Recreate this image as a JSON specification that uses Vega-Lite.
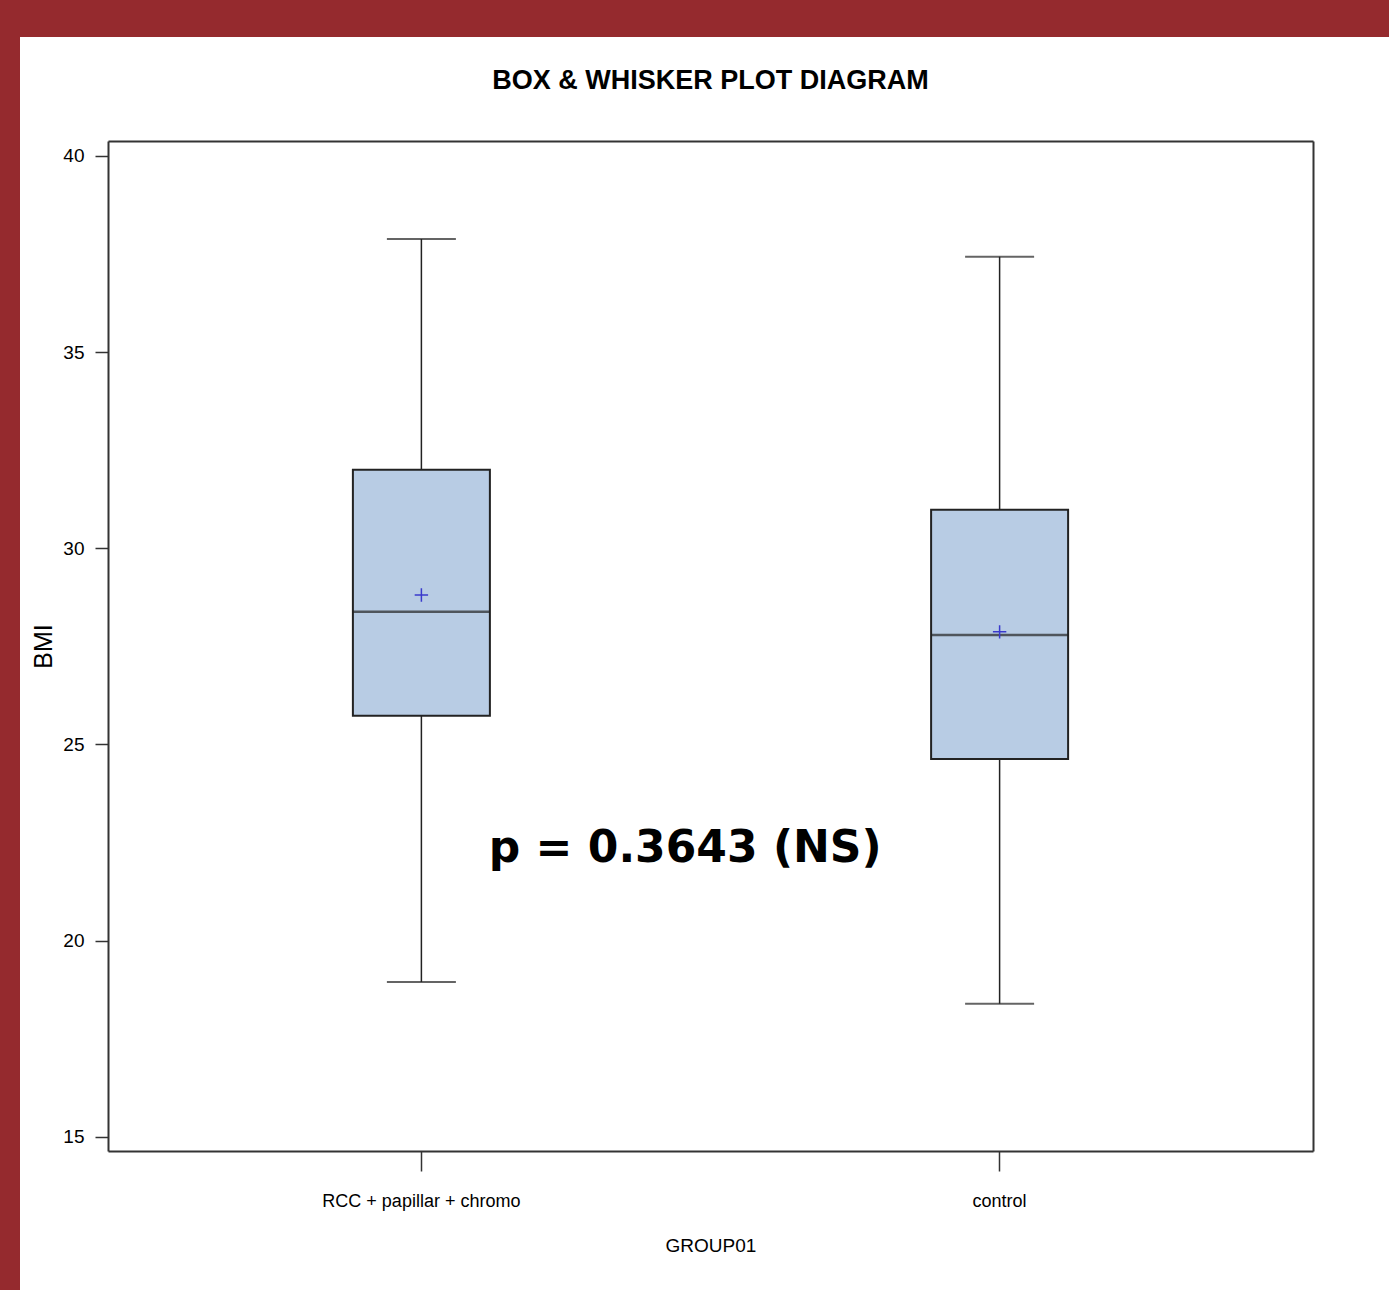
{
  "$schema": "https://vega.github.io/schema/vega-lite/v6.json",
  "width": 1369,
  "height": 1253,
  "autosize": {"type": "none"},
  "padding": {"left": 20, "top": 37, "right": 0, "bottom": 0},
  "background": "#952a2e",
  "config": {
    "view": {"fill": "white", "stroke": null},
    "axis": {
      "grid": false,
      "domainColor": "#333333",
      "domainWidth": 2,
      "tickColor": "#333333",
      "tickWidth": 1.5,
      "labelColor": "black",
      "titleColor": "black",
      "titleFontWeight": "normal",
      "labelLimit": 0
    }
  },
  "title": {
    "text": "BOX & WHISKER PLOT DIAGRAM",
    "font": "Liberation Sans",
    "fontSize": 27,
    "fontWeight": "bold",
    "color": "black",
    "anchor": "middle",
    "frame": "group",
    "offset": -58,
    "dx": 6
  },
  "layer": [
    {
      "data": {
        "values": [
          {"group": "RCC + papillar + chromo", "min": 18.95, "q1": 25.73, "median": 28.38, "q3": 32.0, "max": 37.88, "mean": 28.81},
          {"group": "control", "min": 18.39, "q1": 24.63, "median": 27.79, "q3": 30.98, "max": 37.43, "mean": 27.87}
        ]
      },
      "encoding": {
        "x": {
          "field": "group",
          "type": "nominal",
          "sort": null,
          "scale": {"type": "band", "range": [88, 1293], "paddingInner": 0, "paddingOuter": 0.042},
          "axis": {
            "orient": "bottom",
            "offset": -139,
            "title": "GROUP01",
            "labelAngle": 0,
            "tickSize": 20,
            "labelPadding": 21,
            "labelFont": "Liberation Sans",
            "labelFontSize": 18,
            "titleFont": "Liberation Sans",
            "titleFontSize": 19,
            "titlePadding": 26
          }
        }
      },
      "layer": [
        {
          "mark": {"type": "rule", "color": "#222222", "strokeWidth": 1.5},
          "encoding": {
            "y": {
              "field": "min",
              "type": "quantitative",
              "scale": {"domain": [14.64, 40.38], "range": [1114, 104], "nice": false, "zero": false},
              "axis": {
                "orient": "left",
                "offset": -88,
                "title": "BMI",
                "values": [15, 20, 25, 30, 35, 40],
                "tickSize": 13,
                "labelPadding": 11,
                "labelFont": "Liberation Sans",
                "labelFontSize": 19,
                "titleFont": "Liberation Sans",
                "titleFontSize": 25,
                "titlePadding": 6
              }
            },
            "y2": {"field": "max"}
          }
        },
        {
          "mark": {"type": "bar", "size": 137, "fill": "#b8cce4", "stroke": "#222222", "strokeWidth": 2},
          "encoding": {
            "y": {"field": "q1", "type": "quantitative"},
            "y2": {"field": "q3"}
          }
        },
        {
          "mark": {"type": "tick", "size": 137, "thickness": 2.5, "color": "#222222"},
          "encoding": {"y": {"field": "median", "type": "quantitative"}}
        },
        {
          "mark": {"type": "tick", "size": 69, "thickness": 2, "color": "#222222"},
          "encoding": {"y": {"field": "min", "type": "quantitative"}}
        },
        {
          "mark": {"type": "tick", "size": 69, "thickness": 2, "color": "#222222"},
          "encoding": {"y": {"field": "max", "type": "quantitative"}}
        },
        {
          "mark": {"type": "point", "shape": "M-1,0H1M0,-1V1", "size": 180, "filled": false, "stroke": "#3a3acc", "strokeWidth": 1.5, "opacity": 1},
          "encoding": {"y": {"field": "mean", "type": "quantitative"}}
        }
      ]
    },
    {
      "data": {"values": [{"px": 0.479, "py": 22.0, "label": "p = 0.3643 (NS)"}]},
      "mark": {"type": "text", "font": "DejaVu Sans", "fontWeight": "bold", "fontSize": 44, "align": "center", "baseline": "alphabetic", "color": "black"},
      "encoding": {
        "x": {
          "field": "px",
          "type": "quantitative",
          "scale": {"domain": [0, 1], "range": [88, 1293], "nice": false, "zero": false},
          "axis": {"orient": "top", "offset": -104, "ticks": false, "labels": false, "title": null, "domain": true}
        },
        "y": {
          "field": "py",
          "type": "quantitative",
          "scale": {"domain": [14.64, 40.38], "range": [1114, 104], "nice": false, "zero": false},
          "axis": {"orient": "right", "offset": -76, "ticks": false, "labels": false, "title": null, "domain": true}
        },
        "text": {"field": "label"}
      }
    }
  ],
  "resolve": {"scale": {"x": "independent", "y": "independent"}, "axis": {"x": "independent", "y": "independent"}}
}
